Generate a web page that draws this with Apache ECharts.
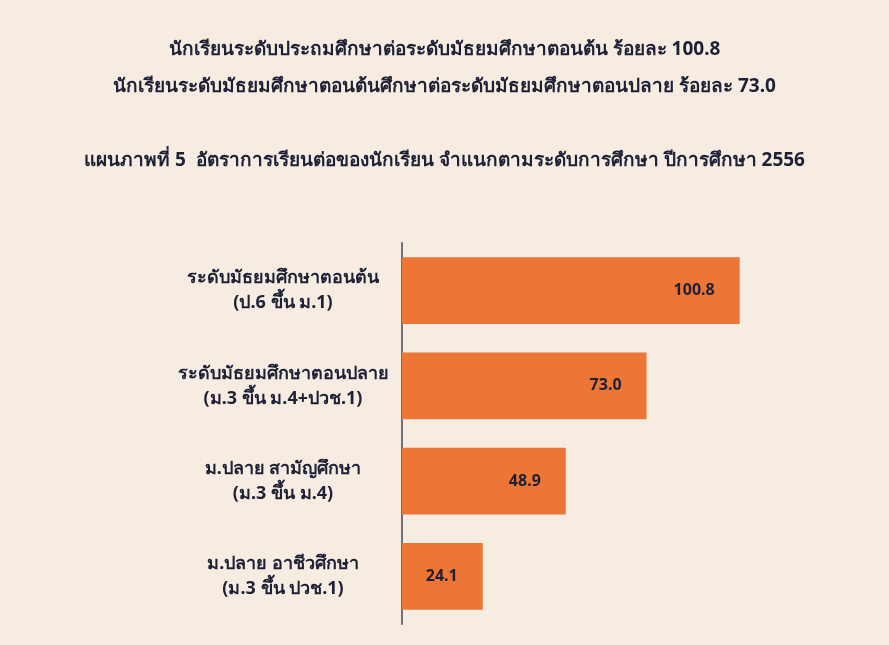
<!DOCTYPE html>
<html>
<head>
<meta charset="utf-8">
<title>อัตราการเรียนต่อของนักเรียน</title>
<script src="https://cdn.jsdelivr.net/npm/echarts@6/dist/echarts.min.js"></script>
<style>
  html, body { margin: 0; padding: 0; background: #f6ece2; }
  #chart { width: 889px; height: 645px; }
</style>
</head>
<body>
<div id="chart"></div>
<script>
// ข้อมูลจากแผนภาพ (top to bottom)
var categories = [
  'ระดับมัธยมศึกษาตอนต้น\n(ป.6 ขึ้น ม.1)',
  'ระดับมัธยมศึกษาตอนปลาย\n(ม.3 ขึ้น ม.4+ปวช.1)',
  'ม.ปลาย สามัญศึกษา\n(ม.3 ขึ้น ม.4)',
  'ม.ปลาย อาชีวศึกษา\n(ม.3 ขึ้น ปวช.1)'
];
var rates = [100.8, 73.0, 48.9, 24.1];

var headLine1 = 'นักเรียนระดับประถมศึกษาต่อระดับมัธยมศึกษาตอนต้น ร้อยละ 100.8';
var headLine2 = 'นักเรียนระดับมัธยมศึกษาตอนต้นศึกษาต่อระดับมัธยมศึกษาตอนปลาย ร้อยละ 73.0';
var chartTitle = 'แผนภาพที่ 5  อัตราการเรียนต่อของนักเรียน จำแนกตามระดับการศึกษา ปีการศึกษา 2556';

var font = 'Tahoma, "Noto Sans", "DejaVu Sans", sans-serif';
var ink = '#1e2136';

var option = {
  backgroundColor: '#f6ece2',
  textStyle: { fontFamily: font },
  title: [
    {
      text: headLine1 + '\n' + headLine2,
      left: 'center',
      top: 26,
      textStyle: { fontSize: 19, fontWeight: 'bold', color: ink, lineHeight: 37, fontFamily: font }
    },
    {
      text: chartTitle,
      left: 'center',
      top: 146,
      textStyle: { fontSize: 19, fontWeight: 'bold', color: ink, fontFamily: font }
    }
  ],
  grid: { left: 402, top: 243, height: 381, right: 85 },
  xAxis: {
    type: 'value',
    min: 0,
    max: 120,
    show: false
  },
  yAxis: {
    type: 'category',
    inverse: true,
    data: categories,
    axisLine: { show: true, lineStyle: { color: '#6f7078', width: 2 } },
    axisTick: { show: false },
    axisLabel: {
      align: 'center',
      margin: 119,
      color: ink,
      fontSize: 18,
      fontWeight: 'bold',
      lineHeight: 25,
      fontFamily: font
    },
    splitLine: { show: false }
  },
  series: [{
    type: 'bar',
    data: rates,
    barWidth: '70%',
    itemStyle: { color: '#ed7535' },
    label: {
      show: true,
      position: 'insideRight',
      distance: 25,
      color: ink,
      fontSize: 16,
      fontWeight: 'bold',
      fontFamily: font,
      formatter: function (p) { return p.value.toFixed(1); }
    }
  }]
};

var chart = echarts.init(document.getElementById('chart'));
chart.setOption(option);
</script>
</body>
</html>
